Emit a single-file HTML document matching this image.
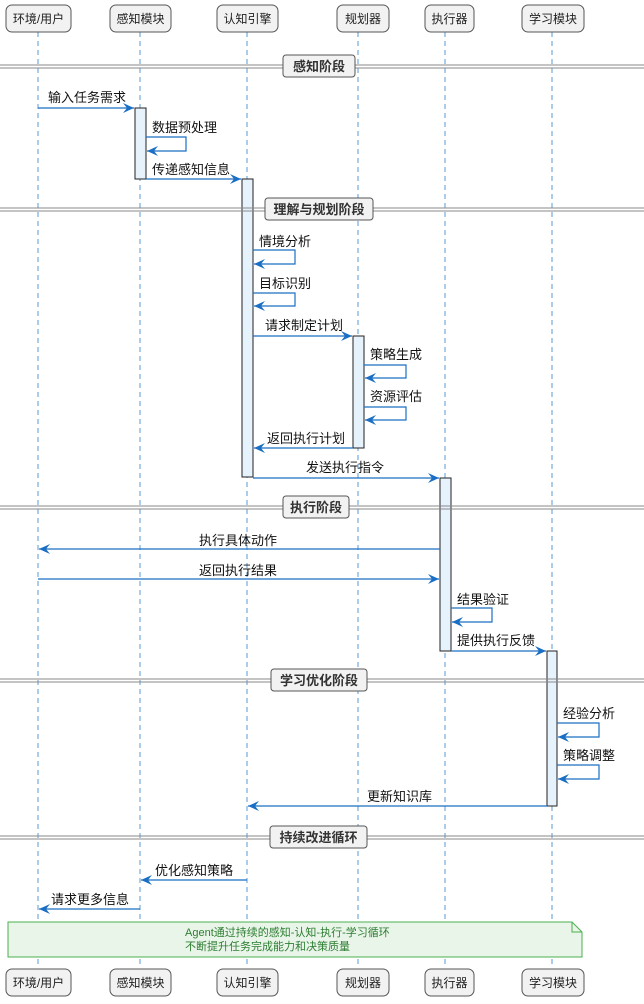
<!DOCTYPE html>
<html><head><meta charset="utf-8"><style>
html,body{margin:0;padding:0;background:#fff;}
svg{display:block;font-family:"Liberation Sans","Noto Sans CJK SC",sans-serif;}
</style></head><body>
<svg width="644" height="1004" viewBox="0 0 644 1004" xmlns="http://www.w3.org/2000/svg">
<defs>
<marker id="a" markerWidth="12" markerHeight="10" refX="11" refY="5" orient="auto" markerUnits="userSpaceOnUse">
<path d="M0,0 L11,5 L0,10 L4,5 Z" fill="#1a6fc4"/>
</marker>
</defs>
<g stroke="#5a9bd5" stroke-width="1" stroke-dasharray="5,4">
<line x1="38" y1="32" x2="38" y2="968"/>
<line x1="140" y1="32" x2="140" y2="968"/>
<line x1="247" y1="32" x2="247" y2="968"/>
<line x1="358" y1="32" x2="358" y2="968"/>
<line x1="445" y1="32" x2="445" y2="968"/>
<line x1="552" y1="32" x2="552" y2="968"/>
</g>
<g fill="#f2f2f2" stroke="#555" stroke-width="1">
<rect x="6" y="5" width="65" height="27" rx="6"/>
<rect x="110" y="5" width="61" height="27" rx="6"/>
<rect x="217" y="5" width="61" height="27" rx="6"/>
<rect x="337" y="5" width="52" height="27" rx="6"/>
<rect x="425" y="5" width="49" height="27" rx="6"/>
<rect x="522" y="5" width="62" height="27" rx="6"/>
<rect x="6" y="969" width="65" height="27" rx="6"/>
<rect x="110" y="969" width="61" height="27" rx="6"/>
<rect x="217" y="969" width="61" height="27" rx="6"/>
<rect x="337" y="969" width="52" height="27" rx="6"/>
<rect x="425" y="969" width="49" height="27" rx="6"/>
<rect x="522" y="969" width="62" height="27" rx="6"/>
</g>
<g font-size="12" fill="#222" text-anchor="middle">
<text x="38.5" y="23">环境/用户</text><text x="140.5" y="23">感知模块</text><text x="247.5" y="23">认知引擎</text>
<text x="363" y="23">规划器</text><text x="449.5" y="23">执行器</text><text x="553" y="23">学习模块</text>
<text x="38.5" y="987">环境/用户</text><text x="140.5" y="987">感知模块</text><text x="247.5" y="987">认知引擎</text>
<text x="363" y="987">规划器</text><text x="449.5" y="987">执行器</text><text x="553" y="987">学习模块</text>
</g>
<g fill="#e6f2fc" stroke="#222" stroke-width="1">
<rect x="135" y="108" width="11" height="71"/>
<rect x="242" y="179" width="11" height="298"/>
<rect x="353" y="336" width="11" height="112"/>
<rect x="440" y="478" width="11" height="173"/>
<rect x="547" y="651" width="10" height="155"/>
</g>
<g stroke="#888" stroke-width="1">
<line x1="0" y1="65" x2="644" y2="65"/><line x1="0" y1="68" x2="644" y2="68"/>
<line x1="0" y1="208" x2="644" y2="208"/><line x1="0" y1="211" x2="644" y2="211"/>
<line x1="0" y1="506" x2="644" y2="506"/><line x1="0" y1="509" x2="644" y2="509"/>
<line x1="0" y1="679" x2="644" y2="679"/><line x1="0" y1="682" x2="644" y2="682"/>
<line x1="0" y1="836" x2="644" y2="836"/><line x1="0" y1="839" x2="644" y2="839"/>
</g>
<g fill="#f2f2f2" stroke="#555" stroke-width="1">
<rect x="283" y="55" width="72" height="22" rx="3"/>
<rect x="265" y="198" width="108" height="22" rx="3"/>
<rect x="283" y="496" width="66" height="22" rx="3"/>
<rect x="271" y="669" width="96" height="22" rx="3"/>
<rect x="270" y="826" width="97" height="22" rx="3"/>
</g>
<g font-size="13" font-weight="bold" fill="#333" text-anchor="middle">
<text x="319" y="71">感知阶段</text>
<text x="319" y="214">理解与规划阶段</text>
<text x="316" y="512">执行阶段</text>
<text x="319" y="685">学习优化阶段</text>
<text x="318.5" y="842">持续改进循环</text>
</g>
<g stroke="#1a6fc4" stroke-width="1.2" fill="none" marker-end="url(#a)">
<line x1="38" y1="108" x2="134" y2="108"/>
<path d="M146,137 H186 V151 H147"/>
<line x1="146" y1="179" x2="241" y2="179"/>
<path d="M253,250 H295 V264 H254"/>
<path d="M253,293 H295 V306 H254"/>
<line x1="253" y1="336" x2="352" y2="336"/>
<path d="M364,365 H406 V378 H365"/>
<path d="M364,407 H406 V420 H365"/>
<line x1="353" y1="448" x2="254" y2="448"/>
<line x1="253" y1="478" x2="439" y2="478"/>
<line x1="440" y1="549" x2="39" y2="549"/>
<line x1="38" y1="579" x2="439" y2="579"/>
<path d="M451,608 H492 V622 H452"/>
<line x1="451" y1="651" x2="546" y2="651"/>
<path d="M557,723 H599 V737 H558"/>
<path d="M557,765 H599 V779 H558"/>
<line x1="547" y1="806" x2="248" y2="806"/>
<line x1="247" y1="880" x2="141" y2="880"/>
<line x1="140" y1="909" x2="39" y2="909"/>
</g>
<g font-size="13" fill="#111">
<text x="48" y="102">输入任务需求</text>
<text x="152" y="132">数据预处理</text>
<text x="152" y="174">传递感知信息</text>
<text x="259" y="246">情境分析</text>
<text x="259" y="288">目标识别</text>
<text x="265" y="330">请求制定计划</text>
<text x="370" y="359">策略生成</text>
<text x="370" y="401">资源评估</text>
<text x="267" y="443">返回执行计划</text>
<text x="306" y="472">发送执行指令</text>
<text x="199" y="545">执行具体动作</text>
<text x="199" y="575">返回执行结果</text>
<text x="457" y="604">结果验证</text>
<text x="457" y="645">提供执行反馈</text>
<text x="563" y="718">经验分析</text>
<text x="563" y="760">策略调整</text>
<text x="367" y="801">更新知识库</text>
<text x="155" y="875">优化感知策略</text>
<text x="51" y="904">请求更多信息</text>
</g>
<path d="M8,922 H572 L582,932 V957 H8 Z" fill="#e9f5e9" stroke="#4caf50" stroke-width="1"/>
<path d="M572,922 V932 H582" fill="none" stroke="#4caf50" stroke-width="1"/>
<g font-size="11" fill="#2e7d32">
<text x="185" y="936">Agent通过持续的感知-认知-执行-学习循环</text>
<text x="185" y="950">不断提升任务完成能力和决策质量</text>
</g>
</svg>
</body></html>
